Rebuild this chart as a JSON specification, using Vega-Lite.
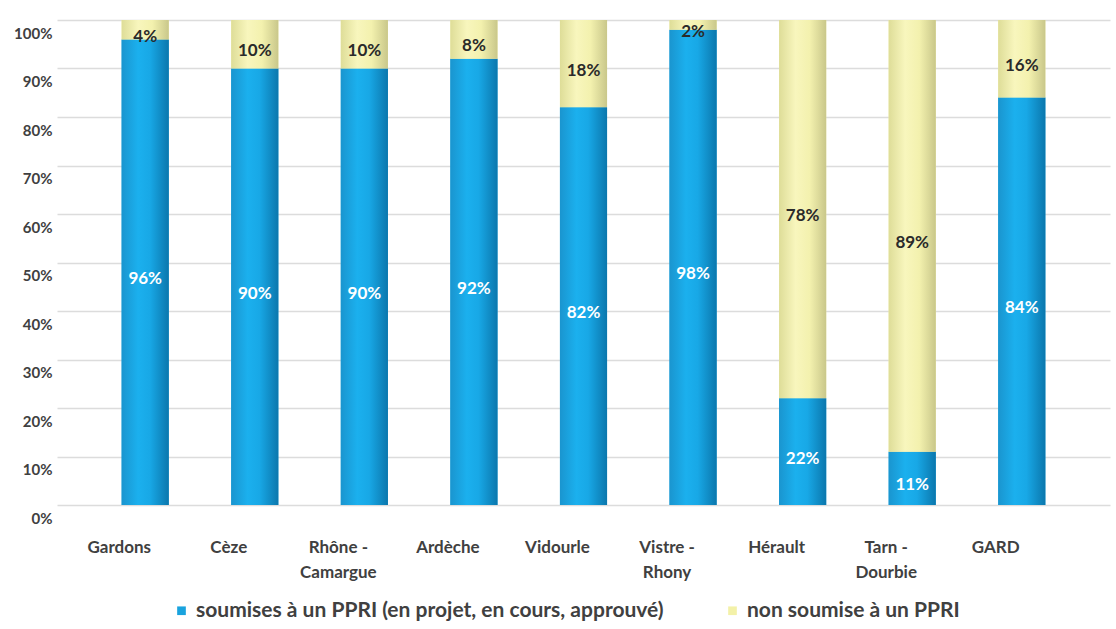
{
  "$schema": "https://vega.github.io/schema/vega-lite/v6.json",
  "autosize": "none",
  "width": 1053,
  "height": 485,
  "padding": {"left": 57, "top": 20, "right": 6, "bottom": 124},
  "background": "white",
  "config": {
    "view": {"stroke": null},
    "font": "Lato"
  },
  "data": {
    "values": [
      {"bassin": "Gardons", "serie": "soumises à un PPRI (en projet, en cours, approuvé)", "part": 0.96},
      {"bassin": "Gardons", "serie": "non soumise à un PPRI", "part": 0.04},
      {"bassin": "Cèze", "serie": "soumises à un PPRI (en projet, en cours, approuvé)", "part": 0.90},
      {"bassin": "Cèze", "serie": "non soumise à un PPRI", "part": 0.10},
      {"bassin": "Rhône - Camargue", "serie": "soumises à un PPRI (en projet, en cours, approuvé)", "part": 0.90},
      {"bassin": "Rhône - Camargue", "serie": "non soumise à un PPRI", "part": 0.10},
      {"bassin": "Ardèche", "serie": "soumises à un PPRI (en projet, en cours, approuvé)", "part": 0.92},
      {"bassin": "Ardèche", "serie": "non soumise à un PPRI", "part": 0.08},
      {"bassin": "Vidourle", "serie": "soumises à un PPRI (en projet, en cours, approuvé)", "part": 0.82},
      {"bassin": "Vidourle", "serie": "non soumise à un PPRI", "part": 0.18},
      {"bassin": "Vistre - Rhony", "serie": "soumises à un PPRI (en projet, en cours, approuvé)", "part": 0.98},
      {"bassin": "Vistre - Rhony", "serie": "non soumise à un PPRI", "part": 0.02},
      {"bassin": "Hérault", "serie": "soumises à un PPRI (en projet, en cours, approuvé)", "part": 0.22},
      {"bassin": "Hérault", "serie": "non soumise à un PPRI", "part": 0.78},
      {"bassin": "Tarn - Dourbie", "serie": "soumises à un PPRI (en projet, en cours, approuvé)", "part": 0.11},
      {"bassin": "Tarn - Dourbie", "serie": "non soumise à un PPRI", "part": 0.89},
      {"bassin": "GARD", "serie": "soumises à un PPRI (en projet, en cours, approuvé)", "part": 0.84},
      {"bassin": "GARD", "serie": "non soumise à un PPRI", "part": 0.16}
    ]
  },
  "transform": [
    {
      "stack": "part",
      "groupby": ["bassin"],
      "offset": "normalize",
      "sort": [{"field": "serie", "order": "descending"}],
      "as": ["y0", "y1"]
    }
  ],
  "encoding": {
    "x": {
      "field": "bassin",
      "type": "nominal",
      "sort": null,
      "scale": {"paddingInner": 0.57, "paddingOuter": 0.59},
      "axis": {
        "title": null,
        "labelAngle": 0,
        "domain": false,
        "ticks": false,
        "labelPadding": 34,
        "labelOffset": -26,
        "labelFontSize": 17,
        "labelFontWeight": "bold",
        "labelColor": "#404040",
        "labelLineHeight": 25,
        "labelExpr": "split(replace(datum.label, ' - ', ' -\\n'), '\\n')"
      }
    }
  },
  "layer": [
    {
      "mark": {"type": "bar"},
      "encoding": {
        "y": {
          "field": "y1",
          "type": "quantitative",
          "scale": {"domain": [0, 1]},
          "axis": {
            "title": null,
            "format": ".0%",
            "values": [0, 0.1, 0.2, 0.3, 0.4, 0.5, 0.6, 0.7, 0.8, 0.9, 1],
            "domain": false,
            "ticks": false,
            "labelPadding": 5,
            "labelOffset": 13,
            "labelFontSize": 15,
            "labelFontWeight": "bold",
            "labelColor": "#404040",
            "gridColor": "#dcdcdc",
            "gridWidth": 1.5
          }
        },
        "y2": {"field": "y0"},
        "color": {
          "field": "serie",
          "type": "nominal",
          "scale": {
            "domain": ["soumises à un PPRI (en projet, en cours, approuvé)", "non soumise à un PPRI"],
            "range": ["#19a3de", "#f3f1a8"]
          },
          "legend": {
            "title": null,
            "orient": "none",
            "legendX": 114,
            "legendY": 580,
            "direction": "horizontal",
            "symbolType": "square",
            "symbolSize": 75,
            "symbolStrokeWidth": 0,
            "labelFontSize": 21,
            "labelFontWeight": "bold",
            "labelColor": "#404040",
            "columnPadding": 58,
            "labelLimit": 700
          }
        }
      }
    },
    {
      "transform": [{"filter": "datum.serie != 'non soumise à un PPRI'"}],
      "mark": {
        "type": "bar",
        "fill": {
          "gradient": "linear",
          "x1": 0, "y1": 0, "x2": 1, "y2": 0,
          "stops": [
            {"offset": 0, "color": "#1a95cf"},
            {"offset": 0.35, "color": "#1bb0ee"},
            {"offset": 0.6, "color": "#18a8e6"},
            {"offset": 1, "color": "#0b77ad"}
          ]
        }
      },
      "encoding": {
        "y": {"field": "y1", "type": "quantitative"},
        "y2": {"field": "y0"}
      }
    },
    {
      "transform": [{"filter": "datum.serie == 'non soumise à un PPRI'"}],
      "mark": {
        "type": "bar",
        "fill": {
          "gradient": "linear",
          "x1": 0, "y1": 0, "x2": 1, "y2": 0,
          "stops": [
            {"offset": 0, "color": "#dedd98"},
            {"offset": 0.35, "color": "#f8f6bd"},
            {"offset": 0.65, "color": "#f3f1ae"},
            {"offset": 1, "color": "#c9c78a"}
          ]
        }
      },
      "encoding": {
        "y": {"field": "y1", "type": "quantitative"},
        "y2": {"field": "y0"}
      }
    },
    {
      "transform": [
        {"calculate": "(datum.y0 + datum.y1) / 2", "as": "ymid"}
      ],
      "mark": {"type": "text", "fontSize": 17, "fontWeight": "bold", "dy": 7},
      "encoding": {
        "y": {"field": "ymid", "type": "quantitative"},
        "text": {"field": "part", "type": "quantitative", "format": ".0%"},
        "color": {
          "condition": {"test": "datum.serie == 'non soumise à un PPRI'", "value": "#2a2a2a"},
          "value": "white"
        }
      }
    }
  ]
}
